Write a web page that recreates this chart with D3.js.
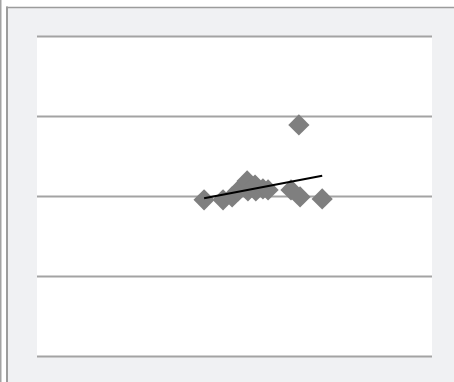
<!DOCTYPE html>
<html>
<head>
<meta charset="utf-8">
<script src="https://cdn.jsdelivr.net/npm/d3@7"></script>
<style>
  html, body { margin: 0; padding: 0; background: #ffffff; }
  svg { display: block; }
</style>
</head>
<body>
<svg id="chart" width="454" height="382"></svg>
<script>
// Observations (x, y)
const xValues = [42.3, 47.1, 49.4, 50.9, 53.2, 53.4, 55.2, 55.4, 57.2, 58.5, 64.3, 66.6, 72.2, 66.3];
const yValues = [48.8, 48.8, 49.7, 51.6, 54.7, 51.6, 53.4, 51.6, 52.2, 51.9, 51.9, 49.7, 49.1, 72.2];
// Value-axis gridline levels
const yTicks = [0, 25, 50, 75, 100];
const xDomain = [0, 100];
const yDomain = [0, 100];

const W = 454, H = 382;
const plot = { left: 37, right: 432, top: 36, bottom: 356 };

const svg = d3.select("#chart");

// Outer frame: panel fill, double rule on the left, rule along the top
svg.append("rect").attr("x", 8).attr("y", 8).attr("width", W - 8).attr("height", H - 8)
  .attr("fill", "#f0f1f3");
svg.append("line").attr("x1", 0.75).attr("x2", 0.75).attr("y1", 0).attr("y2", H)
  .attr("stroke", "#a3a3a3").attr("stroke-width", 1.5);
svg.append("line").attr("x1", 7).attr("x2", 7).attr("y1", 6.5).attr("y2", H)
  .attr("stroke", "#9c9c9c").attr("stroke-width", 2);
svg.append("line").attr("x1", 6).attr("x2", W).attr("y1", 7.5).attr("y2", 7.5)
  .attr("stroke", "#9c9c9c").attr("stroke-width", 1.6);

// Plot area
svg.append("rect")
  .attr("x", plot.left).attr("y", plot.top)
  .attr("width", plot.right - plot.left).attr("height", plot.bottom - plot.top)
  .attr("fill", "#ffffff");

const x = d3.scaleLinear().domain(xDomain).range([plot.left, plot.right]);
const y = d3.scaleLinear().domain(yDomain).range([plot.bottom, plot.top]);

// Horizontal gridlines
const grid = svg.append("g")
  .attr("transform", `translate(${plot.left},0)`)
  .call(d3.axisLeft(y).tickValues(yTicks).tickSize(-(plot.right - plot.left)).tickFormat(""));
grid.select(".domain").remove();
grid.selectAll(".tick line").attr("stroke", "#a3a3a3").attr("stroke-width", 2);

// Markers
const points = xValues.map((v, i) => ({ x: v, y: yValues[i] }));
const diamond = d3.symbol().type(d3.symbolSquare).size(225);
svg.append("g").selectAll("path").data(points).join("path")
  .attr("d", diamond)
  .attr("transform", d => `translate(${x(d.x)},${y(d.y)}) rotate(45)`)
  .attr("fill", "#7f7f7f");

// Linear trendline (least squares)
const mx = d3.mean(xValues), my = d3.mean(yValues);
const sxy = d3.sum(points, d => (d.x - mx) * (d.y - my));
const sxx = d3.sum(points, d => (d.x - mx) ** 2);
const slope = sxy / sxx, intercept = my - slope * mx;
const [x0, x1] = d3.extent(xValues);
const trend = [{ x: x0, y: intercept + slope * x0 }, { x: x1, y: intercept + slope * x1 }];
svg.append("path")
  .datum(trend)
  .attr("d", d3.line().x(d => x(d.x)).y(d => y(d.y)))
  .attr("fill", "none")
  .attr("stroke", "#000000")
  .attr("stroke-width", 2);
</script>
</body>
</html>
